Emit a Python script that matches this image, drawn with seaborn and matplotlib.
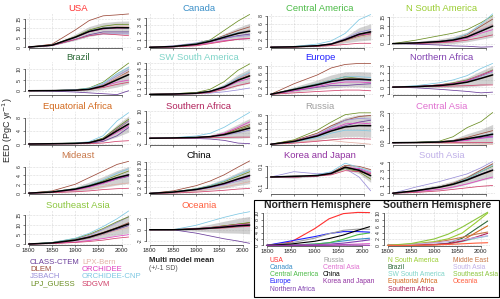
import numpy as np
import pandas as pd
import matplotlib
matplotlib.use("Agg")
import matplotlib.pyplot as plt
import seaborn as sns
from matplotlib.patches import Rectangle

sns.set_theme(style="ticks")
plt.rcParams['font.family'] = ['Liberation Sans', 'DejaVu Sans']

# --- data (PgC/yr) ---
years = [1800, 1850, 1900, 1930, 1960, 1990, 2015]
models = ["CLASS-CTEM", "DLEM", "JSBACH", "LPJ_GUESS",
          "LPX-Bern", "ORCHIDEE", "ORCHIDEE-CNP", "SDGVM"]
model_colors = ["#6a3d9a", "#9c4a3a", "#9a8fd8", "#6b8e23",
                "#e3b0a6", "#e040c0", "#7ec8e3", "#d0406a"]

# one row per model, same order as `models`
usa = [[0, 0.8, 4, 6.5, 8, 8, 8], [0, 1.5, 9, 14, 16.5, 17, 17.5],
       [0, 0.8, 4, 6, 7, 7, 7], [0, 1, 5.5, 9, 11, 12, 12],
       [0, 1, 5, 8, 10, 11, 11], [0, 1, 5, 8, 9.5, 10, 10],
       [0, 1, 5, 8.5, 10, 10.5, 10], [0, 0.8, 4, 6, 7, 6.5, 6]]
canada = [[0, 0.1, 0.4, 0.8, 1.2, 1.6, 1.8], [0, 0.1, 0.4, 0.9, 1.6, 2.3, 2.8],
          [0, 0.2, 0.6, 1.0, 1.3, 1.5, 1.6], [0, 0.1, 0.5, 1.0, 2.3, 3.6, 4.5],
          [0, 0.1, 0.4, 0.8, 1.4, 2.0, 2.4], [0, 0.05, 0.3, 0.6, 0.9, 1.1, 1.2],
          [0, 0.1, 0.5, 0.9, 1.5, 2.0, 2.2], [0, 0.05, 0.2, 0.5, 0.8, 1.1, 1.2]]
central_america = [[0, 0.1, 0.4, 0.8, 2.0, 3.3, 4.0], [0, 0.1, 0.3, 0.7, 1.8, 3.0, 3.5],
                   [0, 0.1, 0.4, 0.9, 2.2, 3.8, 4.5], [0, 0.1, 0.3, 0.7, 1.7, 2.8, 3.4],
                   [0, 0.1, 0.3, 0.6, 1.5, 2.5, 3.0], [0, 0.1, 0.3, 0.7, 1.8, 3.0, 3.4],
                   [0, 0.2, 0.8, 1.6, 3.5, 7.0, 8.3], [0, 0.05, 0.2, 0.4, 0.7, 1.0, 1.0]]
n_south_america = [[0, -0.3, -0.8, -1.3, -1.5, -2.0, -1.8], [0, 0.3, 1.2, 2.5, 5, 10, 14],
                   [0, 0.3, 1, 2, 4, 8, 11], [0, 2, 4.5, 6, 8, 12, 16],
                   [0, 0.3, 1, 2, 4.5, 8.5, 11], [0, 0.2, 0.7, 1.5, 3, 6, 8],
                   [0, 0.3, 1.2, 2.5, 5.5, 11, 17], [0, 0.1, 0.5, 1, 2, 3.5, 5]]
brazil = [[0, -0.2, -0.6, -1.0, -1.4, -1.8, 0.0], [0, 0.1, 0.3, 0.8, 2.5, 6, 9],
          [0, 0.1, 0.4, 1.0, 3, 7, 10], [0, 0.1, 0.5, 1.3, 4, 9, 13],
          [0, 0.1, 0.3, 0.8, 2.5, 6, 8.5], [0, 0.1, 0.3, 0.7, 2, 4, 5],
          [0, 0.1, 0.5, 1.2, 3.5, 8, 11], [0, 0.05, 0.2, 0.5, 1.5, 3, 4]]
sw_south_america = [[0, 0.05, 0.2, 0.5, 1.2, 2.5, 3.3], [0, 0.05, 0.2, 0.5, 1.2, 2.3, 3.0],
                    [0, 0.02, 0.1, 0.2, 0.4, 0.7, 1.0], [0, 0.1, 0.3, 0.8, 2.0, 3.8, 4.8],
                    [0, 0.05, 0.2, 0.5, 1.3, 2.5, 3.3], [0, 0.05, 0.15, 0.4, 1.0, 2.0, 2.5],
                    [0, 0.05, 0.2, 0.5, 1.3, 2.6, 3.5], [0, 0.03, 0.1, 0.3, 0.8, 1.4, 1.8]]
europe = [[0, 1.0, 2.0, 2.5, 2.5, 2.8, 3.0], [0, 3.0, 5.5, 7.5, 8.5, 8.8, 8.8],
          [0, 1.2, 2.5, 3.5, 4.0, 4.0, 3.8], [0, 1.5, 3.0, 4.0, 5.0, 4.5, 4.0],
          [0, 1.3, 2.8, 3.8, 4.5, 4.5, 4.2], [0, 1.0, 2.2, 3.0, 3.5, 3.5, 3.3],
          [0, 1.5, 3.0, 4.0, 5.0, 5.0, 4.8], [0, 0.4, 0.8, 1.0, 1.2, 1.2, 1.0]]
northern_africa = [[0, -0.1, -0.3, -0.45, -0.6, -0.8, -0.7], [0, 0.1, 0.3, 0.5, 0.9, 1.6, 2.3],
                   [0, 0.05, 0.2, 0.4, 0.8, 1.5, 2.1], [0, 0.1, 0.3, 0.6, 1.0, 1.7, 2.4],
                   [0, 0.05, 0.2, 0.4, 0.7, 1.2, 1.6], [0, 0.1, 0.3, 0.5, 0.9, 1.7, 2.3],
                   [0, 0.2, 0.6, 1.0, 1.6, 2.6, 3.3], [0, 0.05, 0.1, 0.15, 0.2, 0.3, 0.3]]
equatorial_africa = [[0, 0.05, 0.1, 0.2, 0.8, 2.5, 5.0], [0, 0.1, 0.2, 0.4, 1.5, 4.5, 7.0],
                     [0, 0.1, 0.2, 0.5, 1.8, 4.8, 7.0], [0, 0.1, 0.3, 0.5, 1.8, 5.0, 7.5],
                     [0, 0.1, 0.2, 0.4, 1.5, 4.0, 6.0], [0, 0.1, 0.2, 0.4, 1.2, 3.5, 5.5],
                     [0, 0.1, 0.3, 0.7, 2.5, 7.0, 9.5], [0, 0.02, 0.05, 0.1, 0.3, 0.8, 1.0]]
southern_africa = [[0, 0, -0.1, -0.3, -0.8, -1.8, -2.0], [0, 0.1, 0.3, 0.6, 1.5, 3.5, 5.0],
                   [0, 0.1, 0.3, 0.5, 1.0, 2.0, 3.0], [0, 0.1, 0.3, 0.6, 1.5, 3.0, 4.5],
                   [0, 0.1, 0.2, 0.5, 1.2, 2.5, 3.5], [0, 0.1, 0.3, 0.6, 1.8, 4.0, 6.0],
                   [0, 0.2, 0.8, 1.8, 4.0, 7.0, 9.5], [0, 0.05, 0.1, 0.2, 0.3, 0.4, 0.4]]
russia = [[0, 0.8, 2.5, 4.0, 5.0, 6.0, 6.5], [0, 1.0, 3.0, 5.0, 6.5, 7.5, 7.8],
          [0, 0.8, 2.5, 4.5, 6.5, 7.0, 6.8], [0, 1.2, 3.8, 6.0, 8.0, 8.5, 8.5],
          [0, 0.5, 1.0, 1.0, 0.6, 0.3, 0.0], [0, 0.8, 2.4, 4.0, 5.5, 5.8, 5.5],
          [0, 0.6, 1.8, 3.0, 3.8, 3.8, 3.6], [0, 0.3, 0.8, 1.2, 1.5, 1.5, 1.4]]
central_asia = [[0, 0.01, 0.05, 0.1, 0.2, 0.35, 0.45], [0, 0.02, 0.08, 0.15, 0.35, 0.6, 0.8],
                [0, 0.02, 0.05, 0.1, 0.2, 0.3, 0.35], [0, 0.03, 0.1, 0.4, 1.0, 1.4, 2.0],
                [0, 0, -0.02, -0.05, -0.08, -0.1, -0.1], [0, 0.01, 0.04, 0.08, 0.15, 0.3, 0.4],
                [0, 0.02, 0.06, 0.12, 0.25, 0.45, 0.6], [0, 0, 0, 0.01, 0.02, 0.02, 0.02]]
mideast = [[0, 0.2, 0.8, 1.5, 2.3, 3.2, 3.8], [0, 0.5, 2.0, 3.5, 5.0, 6.5, 7.2],
           [0, 0.2, 0.8, 1.5, 2.5, 3.5, 4.2], [0, 0.3, 1.0, 1.8, 2.8, 4.0, 5.0],
           [0, 0.2, 0.6, 1.0, 1.5, 2.0, 2.3], [0, 0.2, 0.7, 1.3, 2.2, 3.2, 4.0],
           [0, 0.3, 1.0, 1.8, 3.0, 4.5, 5.5], [0, 0.1, 0.3, 0.5, 0.8, 1.0, 1.1]]
china = [[0, 0.4, 1.2, 2.0, 3.0, 4.5, 5.5], [0, 0.8, 2.5, 4.0, 6.0, 8.5, 10.5],
         [0, 0.3, 1.0, 1.8, 2.8, 4.0, 5.0], [0, 0.5, 1.5, 2.5, 3.8, 5.5, 7.0],
         [0, 0.3, 0.8, 1.3, 2.0, 3.0, 3.8], [0, 0.4, 1.2, 2.0, 3.0, 4.5, 5.5],
         [0, 0.5, 1.5, 2.5, 4.0, 6.0, 7.5], [0, 0.1, 0.4, 0.7, 1.0, 1.4, 1.6]]
korea_japan = [[0, 0.0, 0.01, 0.03, 0.09, 0.07, 0.03], [0, 0.0, 0.01, 0.04, 0.11, 0.10, 0.07],
               [0, 0.05, 0.03, 0.04, 0.08, 0.0, -0.13], [0, 0.0, 0.01, 0.03, 0.08, 0.05, -0.02],
               [0, 0.0, 0.01, 0.03, 0.10, 0.06, 0.03], [0, 0.0, 0.01, 0.03, 0.09, 0.08, 0.04],
               [0, 0.0, 0.02, 0.05, 0.13, 0.09, 0.05], [0, 0.0, 0.01, 0.02, 0.06, 0.05, 0.03]]
south_asia = [[0, 0.3, 0.8, 1.2, 1.8, 2.5, 3.0], [0, 0.3, 0.8, 1.3, 2.0, 3.0, 3.8],
              [0, 0.8, 1.5, 2.0, 2.5, 3.3, 4.1], [0, 0.3, 0.8, 1.2, 1.9, 2.8, 3.5],
              [0, 0.3, 0.7, 1.1, 1.7, 2.4, 2.8], [0, 0.2, 0.5, 0.8, 1.2, 1.7, 2.1],
              [0, 0.3, 0.8, 1.2, 1.9, 2.8, 3.6], [0, 0.1, 0.3, 0.5, 0.7, 0.9, 1.0]]
southeast_asia = [[0, 0.5, 1.8, 3.0, 5.0, 7.5, 9.5], [0, 0.6, 2.2, 3.8, 6.0, 8.5, 11],
                  [0, 0.7, 2.5, 4.5, 7.5, 11, 14], [0, 0.8, 2.8, 5.0, 8.0, 11.5, 14],
                  [0, 0.5, 1.8, 3.0, 5.0, 7.0, 8.5], [0, 0.3, 1.0, 1.8, 2.8, 4.0, 4.8],
                  [0, 0.8, 3.0, 5.5, 9.0, 13, 17], [0, 0.2, 0.8, 1.3, 2.0, 3.0, 3.6]]
oceania = [[0, 0, -0.6, -1.1, -1.6, -2.0, -2.4], [0, 0, 0.2, 0.4, 0.7, 1.0, 1.2],
           [0, 0, 0.1, 0.2, 0.4, 0.6, 0.7], [0, 0, 0.2, 0.4, 0.7, 1.0, 1.3],
           [0, 0, 0.1, 0.3, 0.5, 0.8, 1.0], [0, 0, 0.2, 0.4, 0.6, 0.9, 1.0],
           [0, 0, 0.8, 1.5, 2.2, 2.8, 3.2], [0, 0, 0.1, 0.2, 0.3, 0.5, 0.6]]

# panel title, data, title colour, y ticks, y limits
panels = [
    ("USA", usa, "#ff3030", [0, 5, 10, 15], (-0.5, 18)),
    ("Canada", canada, "#3a8fc8", [0, 1, 2, 3, 4], (-0.1, 4.7)),
    ("Central America", central_america, "#4cbb47", [0, 2, 4, 6, 8], (-0.2, 8.7)),
    ("N South America", n_south_america, "#9acd32", [0, 5, 10, 15], (-2.5, 17.5)),
    ("Brazil", brazil, "#2f6b3a", [0, 5, 10], (-2, 13.5)),
    ("SW South America", sw_south_america, "#7fd4c8", [0, 1, 2, 3, 4, 5], (-0.1, 5.1)),
    ("Europe", europe, "#2020ff", [0, 2, 4, 6, 8], (-0.2, 9.2)),
    ("Northern Africa", northern_africa, "#8040b0", [-1, 0, 1, 2, 3], (-1.1, 3.5)),
    ("Equatorial Africa", equatorial_africa, "#d2691e", [0, 4, 8], (-0.3, 10)),
    ("Southern Africa", southern_africa, "#b0205a", [-2, 2, 6, 10], (-2.5, 10)),
    ("Russia", russia, "#a0a0a0", [0, 2, 4, 6, 8], (-0.2, 9)),
    ("Central Asia", central_asia, "#e070d0", [0.0, 1.0, 2.0], (-0.15, 2.1)),
    ("Mideast", mideast, "#c8784a", [0, 2, 4, 6], (-0.2, 7.5)),
    ("China", china, "#000000", [0, 2, 4, 6, 8, 10], (-0.2, 10.8)),
    ("Korea and Japan", korea_japan, "#9030a0", [-0.1, 0.0, 0.1], (-0.16, 0.16)),
    ("South Asia", south_asia, "#c0b0e8", [0, 1, 2, 3, 4], (-0.1, 4.3)),
    ("Southeast Asia", southeast_asia, "#8cc63f", [0, 5, 10, 15], (-0.5, 17.5)),
    ("Oceania", oceania, "#ff6040", [-2, 0, 2], (-2.7, 3.5)),
]
nh_regions = ["USA", "Canada", "Central America", "Europe", "Northern Africa",
              "Russia", "Central Asia", "China", "Korea and Japan"]
sh_regions = ["N South America", "Brazil", "SW South America", "Equatorial Africa",
              "Southern Africa", "Mideast", "South Asia", "Southeast Asia", "Oceania"]
sh_labels = ["N South America", "Brazil", "SW South America", "Equatorial Africa",
             "Southern Africa", "Middle East", "South Asia", "Southeast Asia", "Oceania"]

W, H = 500, 299
fig = plt.figure(figsize=(5, 2.99), dpi=100)


def px_axes(x0, y0, x1, y1):
    return fig.add_axes([x0 / W, 1 - y1 / H, (x1 - x0) / W, (y1 - y0) / H])


def style_axes(ax, yticks, ylim, xlabels):
    ax.set_xlim(1792, 2020)
    ax.set_ylim(*ylim)
    ax.set_xticks([1800, 1850, 1900, 1950, 2000])
    ax.set_yticks(yticks)
    ylab = ["" if (ylim[1] < 1 and t == 0) else (f"{t:.1f}" if isinstance(t, float) else str(t))
            for t in yticks]
    ax.set_yticklabels(ylab)
    ax.grid(True, ls=":", lw=0.4, color="#b8b8b8")
    sns.despine(ax=ax)
    ax.spines["left"].set_bounds(min(yticks), max(yticks))
    ax.spines["bottom"].set_bounds(1800, 2000)
    for s in ("left", "bottom"):
        ax.spines[s].set_linewidth(0.5)
    ax.tick_params(length=1.5, width=0.4, pad=0.8, labelsize=3.8)
    ax.tick_params(axis="y", labelrotation=90)
    for lab in ax.get_yticklabels():
        lab.set_va("center")
    if not xlabels:
        ax.set_xticklabels([])
    else:
        ax.tick_params(axis="x", labelsize=4.3)
    ax.set_xlabel("")
    ax.set_ylabel("")


palette = dict(zip(models, model_colors))
means = {}

col_x = [(25, 131), (146, 252), (267, 373), (389, 495)]
row_y = [(13, 48), (62, 95), (111, 145), (160, 194), (210, 245)]

for i, (name, data, tcol, yt, yl) in enumerate(panels):
    r, c = divmod(i, 4)
    ax = px_axes(col_x[c][0], row_y[r][0], col_x[c][1], row_y[r][1])
    arr = np.array(data, dtype=float)
    mean = arr.mean(axis=0)
    sd = arr.std(axis=0, ddof=1)
    means[name] = mean
    df = pd.DataFrame(arr, index=models, columns=years)
    df = df.reset_index(names="model").melt(id_vars="model", var_name="year", value_name="eed")
    sns.lineplot(data=df, x="year", y="eed", hue="model", palette=palette,
                 legend=False, lw=0.55, ax=ax)
    ax.fill_between(years, mean - sd, mean + sd, color="#9a9a9a", alpha=0.45, lw=0)
    sns.lineplot(x=years, y=mean, color="black", lw=1.1, ax=ax)
    ax.set_title(name, color=tcol, fontsize=6.8, pad=0.5)
    style_axes(ax, yt, yl, xlabels=(r == 4))

title_color = {p[0]: p[2] for p in panels}

# hemisphere summary panels
for (x0, x1), regs, title in [((263, 372), nh_regions, "Northern Hemisphere"),
                              ((384, 490), sh_regions, "Southern Hemisphere")]:
    ax = px_axes(x0, 210, x1, 246)
    for reg in regs:
        sns.lineplot(x=years, y=means[reg], color=title_color[reg], lw=0.8, ax=ax)
    ax.set_title(title, fontsize=7.5, fontweight="bold", pad=0.5)
    style_axes(ax, [0, 2, 4, 6, 8, 10], (-0.2, 11), xlabels=True)

fig.add_artist(Rectangle((254 / W, 1 - 297 / H), 245 / W, 97 / H, transform=fig.transFigure,
                         fill=False, lw=0.8, ec="black"))

# model legend
for k, (m, mc) in enumerate(zip(models, model_colors)):
    col, row = divmod(k, 4)
    fig.text((30 + 52 * col) / W, 1 - (262 + 7.4 * row) / H, m, color=mc,
             fontsize=5.6, va="center")
fig.text(149 / W, 1 - 260 / H, "Multi model mean", fontsize=5.6, fontweight="bold", va="center")
fig.text(149 / W, 1 - 268 / H, "(+/-1 SD)", fontsize=5, color="#555555", va="center")

# hemisphere legends
for x_cols, regs, labels in [((270, 323), nh_regions, nh_regions),
                             ((388, 453), sh_regions, sh_labels)]:
    for k, (reg, lab) in enumerate(zip(regs, labels)):
        col, row = divmod(k, 5)
        fig.text(x_cols[col] / W, 1 - (260 + 7.3 * row) / H, lab,
                 color=title_color[reg], fontsize=4.9, va="center")

fig.text(8 / W, 1 - 130 / H, "EED (PgC yr$^{-1}$)", rotation=90, fontsize=6.5,
         va="center", ha="center")

fig.savefig("out.png", dpi=100)
